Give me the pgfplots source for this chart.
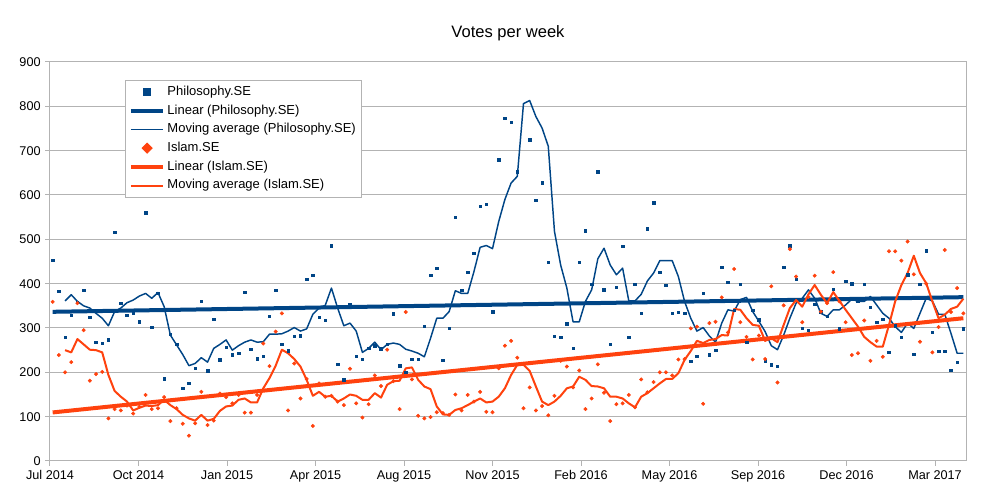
\documentclass[border=0pt]{standalone}
\usepackage{fontspec}
\setmainfont{Liberation Sans}
\usepackage{pgfplots}
\usepackage{pgfplotstable}
\pgfplotsset{compat=1.18}

\definecolor{phil}{HTML}{004586}
\definecolor{isl}{HTML}{FF420E}
\definecolor{gridgray}{HTML}{B3B3B3}

% d = day since start, P/I = weekly votes, PM/IM = moving averages
\pgfplotstableread{
d P I PM IM
3 453 359 nan nan
10 383 239 nan nan
17 279 200 361 250
24 329 223 375 245
31 358 356 360 275
38 385 295 350 263
45 324 181 345 251
52 268 196 333 250
59 266 201 322 245
66 273 96 305 194
73 516 117 337 158
80 356 114 345 145
87 329 125 357 134
94 333 107 363 114
101 314 122 372 120
108 560 149 378 125
115 302 117 367 124
122 378 119 380 126
129 185 144 348 138
136 286 90 284 126
143 263 119 262 117
150 164 84 240 104
157 175 57 215 96
164 209 85 220 91
171 360 156 233 104
178 203 81 223 91
185 320 91 254 95
192 228 152 263 113
199 257 144 273 123
206 239 130 250 125
213 243 149 260 138
220 381 109 268 141
227 252 109 273 132
234 230 149 268 132
241 236 265 269 164
248 326 214 286 187
255 385 292 286 215
262 263 333 287 251
269 249 114 293 243
276 281 220 301 230
283 283 141 293 213
290 410 185 298 183
297 419 79 331 147
304 324 175 345 156
311 317 145 351 145
318 485 147 390 147
325 218 134 345 134
332 183 126 305 141
339 352 208 311 150
346 236 130 293 147
353 229 98 245 138
360 254 128 254 138
367 260 193 268 153
374 253 169 251 143
381 263 251 263 172
388 332 180 266 180
395 215 117 263 181
402 200 336 252 209
409 229 184 248 211
416 229 102 243 183
423 304 96 235 168
430 419 99 277 162
437 435 110 322 123
444 227 108 322 105
451 299 104 337 104
458 550 150 384 115
465 385 114 378 119
472 426 149 378 126
479 469 134 427 134
486 575 156 482 141
493 579 111 486 132
500 336 110 479 134
507 679 209 540 145
514 773 260 590 164
521 764 271 627 194
528 652 233 642 217
535 nan 119 806 217
542 724 166 813 203
549 588 114 777 168
556 627 124 751 134
563 448 103 710 126
570 281 147 518 134
577 279 226 442 147
584 309 213 390 164
591 254 166 314 168
598 448 204 314 190
605 519 117 360 183
612 399 141 386 169
619 652 218 456 168
626 386 154 480 164
633 263 90 442 145
640 392 128 420 145
647 484 130 435 141
654 279 149 361 130
661 399 121 361 121
668 333 184 376 145
675 524 155 406 153
682 582 178 424 164
689 426 200 452 175
696 396 200 452 185
703 333 193 452 185
710 335 229 416 198
717 333 230 360 228
724 225 299 322 248
731 236 303 293 271
738 378 129 301 266
745 239 311 282 273
752 250 314 268 275
759 437 369 311 284
766 403 290 341 283
773 340 433 338 343
780 399 313 364 341
787 268 280 369 322
794 340 229 337 307
801 318 283 315 305
808 226 230 292 271
815 217 394 260 277
822 214 177 251 268
829 437 351 284 307
836 485 478 322 345
843 410 416 356 363
850 299 313 367 348
857 295 370 386 376
864 354 418 367 397
871 337 337 333 375
878 326 356 326 356
885 387 426 341 381
892 298 360 341 361
899 405 313 352 341
906 400 239 365 322
913 360 243 360 303
920 399 317 360 280
927 347 226 371 268
934 313 271 352 258
941 320 235 333 258
948 245 473 322 307
955 305 473 303 360
962 279 452 290 397
969 420 495 311 424
976 241 421 299 463
983 399 269 333 424
990 474 400 367 401
997 290 245 361 360
1004 248 302 331 322
1011 248 476 331 330
1018 205 336 288 343
1025 223 390 243 348
1032 298 333 243 366
}\votes

\begin{document}
\begin{tikzpicture}
\begin{axis}[
    scale only axis,
    width=687pt, height=299.25pt,
    xmin=0, xmax=1035,
    ymin=0, ymax=900,
    xtick={0,100,...,1000},
    xticklabels={Jul 2014,Oct 2014,Jan 2015,Apr 2015,Aug 2015,Nov 2015,Feb 2016,May 2016,Sep 2016,Dec 2016,Mar 2017},
    ytick={0,100,...,900},
    ymajorgrids,
    major grid style={gridgray, line width=0.75pt},
    axis line style={gridgray, line width=0.75pt},
    tick style={gridgray, line width=0.75pt},
    tick align=outside,
    major tick length=3.5pt,
    xtick pos=bottom, ytick pos=left,
    tick label style={font=\fontsize{9.5}{11}\selectfont, text=black},
    /pgf/number format/assume math mode=true,
    title={Votes per week},
    title style={font=\fontsize{12.4}{14}\selectfont, yshift=6.5pt},
    legend style={at={(0.0819,0.955)}, anchor=north west,
        draw=gridgray, line width=0.75pt, fill=white,
        font=\fontsize{9.75}{11}\selectfont,
        inner xsep=2.5pt, inner ysep=2.5pt, row sep=1.4pt,
        nodes={inner sep=1.5pt, text height=7.3pt, text depth=2.3pt},
        cells={anchor=west}},
    legend image code/.code={
        \draw[mark repeat=2, mark phase=2, #1, mark size=2.6pt]
            plot coordinates {(0cm,0cm) (0.43cm,0cm) (0.86cm,0cm)};},
]
\addplot[only marks, mark=square*, mark size=0.95pt, phil] table[x=d, y=P] {\votes};
\addlegendentry{Philosophy.SE}
\addplot[phil, line width=3pt] coordinates {(3,336.5) (1032,369.5)};
\addlegendentry{Linear (Philosophy.SE)}
\addplot[phil, line width=1.1pt, line join=round, mark=none] table[x=d, y=PM] {\votes};
\addlegendentry{Moving average (Philosophy.SE)}
\addplot[only marks, mark=square*, mark options={rotate=45}, mark size=0.9pt, isl] table[x=d, y=I] {\votes};
\addlegendentry{Islam.SE}
\addplot[isl, line width=3pt] coordinates {(3,109.5) (1032,322)};
\addlegendentry{Linear (Islam.SE)}
\addplot[isl, line width=1.5pt, line join=round, mark=none] table[x=d, y=IM] {\votes};
\addlegendentry{Moving average (Islam.SE)}
\end{axis}
\path (current axis.south west) ++(-37.5pt,-25.5pt) coordinate (bbsw);
\path (current axis.north east) ++(15pt,46.5pt) coordinate (bbne);
\path (bbsw) rectangle (bbne);
\end{tikzpicture}
\end{document}
